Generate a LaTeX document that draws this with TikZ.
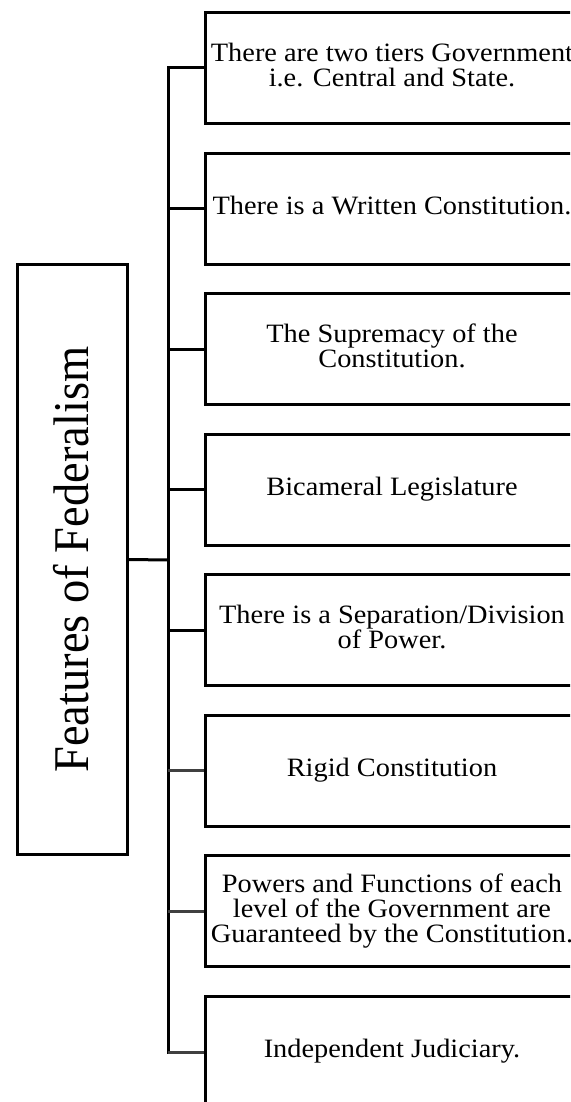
\documentclass[tikz,border=0pt]{standalone}
\usepackage{graphicx}
\usepackage{fontspec}
\setmainfont{Liberation Serif}
\newcommand{\bt}[1]{\scalebox{1.07}[1]{\begin{tabular}{@{}c@{}}#1\end{tabular}}}
\begin{document}
\begin{tikzpicture}[x=1pt,y=-1pt,
  item/.style={draw=black, line width=3pt, minimum width=374pt, minimum height=111pt,
    inner sep=0pt, anchor=west,
    font=\fontsize{26.5}{22.5}\selectfont},
  mainbox/.style={draw=black, line width=3pt, minimum width=110pt, minimum height=590pt, inner sep=0pt},
  conn/.style={draw=black, line width=3pt},
  connG/.style={draw=black!75, line width=3pt}]
\useasboundingbox (0,0) rectangle (570,1102);
\clip (0,0) rectangle (570,1102);
\fill[white] (0,0) rectangle (570,1102);

\node[mainbox] (L) at (72.5,559.5) {};
\node[rotate=90, anchor=base, font=\fontsize{50}{56}\selectfont] (Lt) at (88,559.5) {\scalebox{0.93}[1]{Features of Federalism}};

\node[item] (b1) at (203.5,68) {\bt{There are two tiers Government\\i.e. Central and State.}};
\node[item] (b2) at (203.5,208.6) {\bt{There is a Written Constitution.}};
\node[item] (b3) at (203.5,349.1) {\bt{The Supremacy of the\\Constitution.}};
\node[item] (b4) at (203.5,489.7) {\bt{Bicameral Legislature}};
\node[item] (b5) at (203.5,630.3) {\bt{There is a Separation/Division\\of Power.}};
\node[item] (b6) at (203.5,770.9) {\bt{Rigid Constitution}};
\node[item] (b7) at (203.5,911.4) {\bt{Powers and Functions of each\\level of the Government are\\Guaranteed by the Constitution.}};
\node[item] (b8) at (203.5,1052) {\bt{Independent Judiciary.}};

\coordinate (T) at (168,560);
\draw[conn] (L.east) -- (T);
\draw[conn, line cap=rect] (b1.west) -- (b1.west -| T) -- (b8.west -| T);
\draw[connG] (b8.west -| T) -- (b8.west);
\foreach \i in {2,3,4,5}{\draw[conn] (b\i.west) -- (b\i.west -| T);}
\foreach \i in {6,7}{\draw[connG] (b\i.west) -- (b\i.west -| T);}
\end{tikzpicture}
\end{document}
